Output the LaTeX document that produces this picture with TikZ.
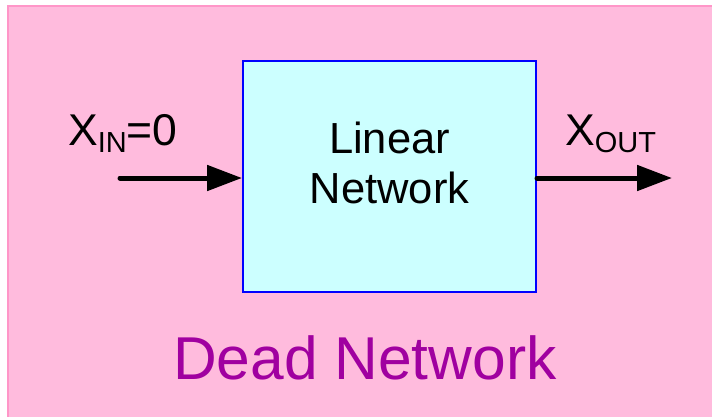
\documentclass[tikz,border=0pt]{standalone}
\usepackage{fontspec}
\setmainfont{Liberation Sans}
\usetikzlibrary{arrows.meta}
\definecolor{bgpink}{RGB}{255,187,221}
\definecolor{edgepink}{RGB}{255,150,200}
\definecolor{boxcyan}{RGB}{204,255,255}
\definecolor{deadpurple}{RGB}{160,0,160}
\tikzset{
  lbl/.style={inner sep=0pt, anchor=base west, font=\fontsize{44.5}{50}\selectfont},
  sig/.style={line width=5pt, line cap=round, -{Triangle[length=35pt,width=25pt]}},
}
\begin{document}
\begin{tikzpicture}[x=1pt,y=-1pt]
\useasboundingbox (0,0) rectangle (712,416);
\fill[white] (0,0) rectangle (712,416);
\draw[edgepink, fill=bgpink, line width=2pt] (8,6) rectangle (716,420);
\node[draw=blue, fill=boxcyan, line width=2pt, minimum width=293pt, minimum height=231pt, inner sep=0pt] (b) at (389.5,176.5) {};
\node[inner sep=0pt, align=center, font=\fontsize{43.5}{50}\selectfont] (t) at (389.5,162.5) {Linear\\Network};
\node[lbl] (xin) at (68,145) {X\raisebox{-7pt}{\fontsize{29}{30}\selectfont IN}=0};
\node[lbl] (xout) at (565,145) {X\raisebox{-7pt}{\fontsize{29}{30}\selectfont OUT}};
\node[inner sep=0pt, anchor=base west, text=deadpurple, font=\fontsize{60.5}{66}\selectfont] (dead) at (173,379) {Dead Network};
\coordinate (in) at (120,178);
\coordinate (out) at (672,178);
\draw[sig] (in) -- (b.west |- in);
\draw[sig] (b.east |- out) -- (out);
\end{tikzpicture}
\end{document}
